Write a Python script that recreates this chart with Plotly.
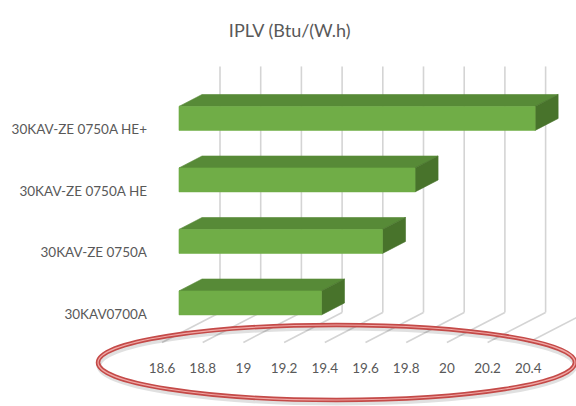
import plotly.graph_objects as go

# ---- data ----
categories = ["30KAV0700A", "30KAV-ZE 0750A", "30KAV-ZE 0750A HE", "30KAV-ZE 0750A HE+"]
iplv = [19.30, 19.60, 19.76, 20.35]
tick_values = [18.6, 18.8, 19.0, 19.2, 19.4, 19.6, 19.8, 20.0, 20.2, 20.4]
tick_labels = ["18.6", "18.8", "19", "19.2", "19.4", "19.6", "19.8", "20", "20.2", "20.4"]
chart_title = "IPLV (Btu/(W.h)"

# ---- oblique 3D projection (layout constants) ----
W, H = 576, 406
AXIS_MIN = 18.6
PX_PER_UNIT = 203.5          # horizontal pixels per value unit
PX_PER_CAT = 61.5            # vertical pixels per category step
FRONT_X0_PX = 162            # pixel x of AXIS_MIN on front floor edge
CAT0_Y_PX = 311.7            # pixel y of category 0 at depth 0
DEPTH_DX, DEPTH_DY = 58, 30  # pixel offset of full depth
DX = DEPTH_DX / PX_PER_UNIT
DY = DEPTH_DY / PX_PER_CAT
D0, D1 = 0.293, 0.69         # bar depth span
HALF = 0.195                 # half bar thickness (category units)
K_MIN, K_MAX = -0.5, len(categories) - 0.5


def proj(v, k, d):
    return v + DX * d, k + DY * d


def poly(points):
    xs, ys = [], []
    for v, k, d in points:
        x, y = proj(v, k, d)
        xs.append(x)
        ys.append(y)
    xs.append(xs[0])
    ys.append(ys[0])
    return xs, ys


fig = go.Figure()

# gridlines: back wall verticals + floor diagonals
gx, gy = [], []
for v in tick_values:
    for a, b in [((v, K_MIN, 1), (v, K_MAX, 1)), ((v, K_MIN, 0), (v, K_MIN, 1))]:
        x0, y0 = proj(*a)
        x1, y1 = proj(*b)
        gx += [x0, x1, None]
        gy += [y0, y1, None]
fig.add_trace(go.Scatter(x=gx, y=gy, mode="lines",
                         line=dict(color="#d4d4d4", width=1.6),
                         hoverinfo="skip", showlegend=False))

FRONT = "#70ad47"
TOP = "#578a37"
SIDE = "#48732b"

for i, (cat, val) in enumerate(zip(categories, iplv)):
    k = i
    faces = [
        (TOP, [(AXIS_MIN, k + HALF, D0), (val, k + HALF, D0), (val, k + HALF, D1), (AXIS_MIN, k + HALF, D1)]),
        (SIDE, [(val, k - HALF, D0), (val, k + HALF, D0), (val, k + HALF, D1), (val, k - HALF, D1)]),
        (FRONT, [(AXIS_MIN, k - HALF, D0), (val, k - HALF, D0), (val, k + HALF, D0), (AXIS_MIN, k + HALF, D0)]),
    ]
    for color, pts in faces:
        xs, ys = poly(pts)
        fig.add_trace(go.Scatter(x=xs, y=ys, mode="lines", fill="toself",
                                 fillcolor=color, line=dict(color=color, width=0.6),
                                 hoverinfo="skip", showlegend=False, name=cat))

x_range = [AXIS_MIN - FRONT_X0_PX / PX_PER_UNIT, AXIS_MIN + (W - FRONT_X0_PX) / PX_PER_UNIT]
y_range = [(CAT0_Y_PX - H) / PX_PER_CAT, CAT0_Y_PX / PX_PER_CAT]
label_k = [i - 0.04 for i in range(len(categories))]

font_family = "Lato, 'Open Sans', sans-serif"
fig.update_layout(
    width=W, height=H,
    margin=dict(l=0, r=0, t=0, b=0, autoexpand=False),
    paper_bgcolor="white", plot_bgcolor="white",
    title=dict(text=chart_title, x=0.503, xanchor="center", y=1 - 31 / H, yanchor="middle",
               font=dict(family=font_family, size=18, color="#595959")),
    xaxis=dict(range=x_range, domain=[0, 1], anchor="free", position=(H - 358) / H,
               tickvals=tick_values, ticktext=tick_labels, showgrid=False, zeroline=False,
               showline=False, ticks="", tickfont=dict(family=font_family, size=13.5, color="#595959"),
               automargin=False, fixedrange=True),
    yaxis=dict(range=y_range, domain=[0, 1], anchor="free", position=147 / W,
               tickvals=label_k, ticktext=categories, showgrid=False, zeroline=False,
               showline=False, ticks="", tickfont=dict(family=font_family, size=13.5, color="#595959"),
               automargin=False, fixedrange=True),
    shapes=[
        dict(type="circle", xref="paper", yref="paper", x0=99 / W, x1=575 / W,
             y0=1 - 403 / H, y1=1 - 328 / H, line=dict(color="rgba(0,0,0,0.12)", width=5)),
        dict(type="circle", xref="paper", yref="paper", x0=98 / W, x1=575 / W,
             y0=1 - 400 / H, y1=1 - 325 / H, line=dict(color="#c44a48", width=4.5)),
        dict(type="circle", xref="paper", yref="paper", x0=98 / W, x1=575 / W,
             y0=1 - 400 / H, y1=1 - 325 / H, line=dict(color="#f0a8a6", width=1.2)),
    ],
)

fig.write_html("out.html", config={"displayModeBar": False},
               post_script="document.body.style.margin='0';document.body.style.overflow='hidden';")
